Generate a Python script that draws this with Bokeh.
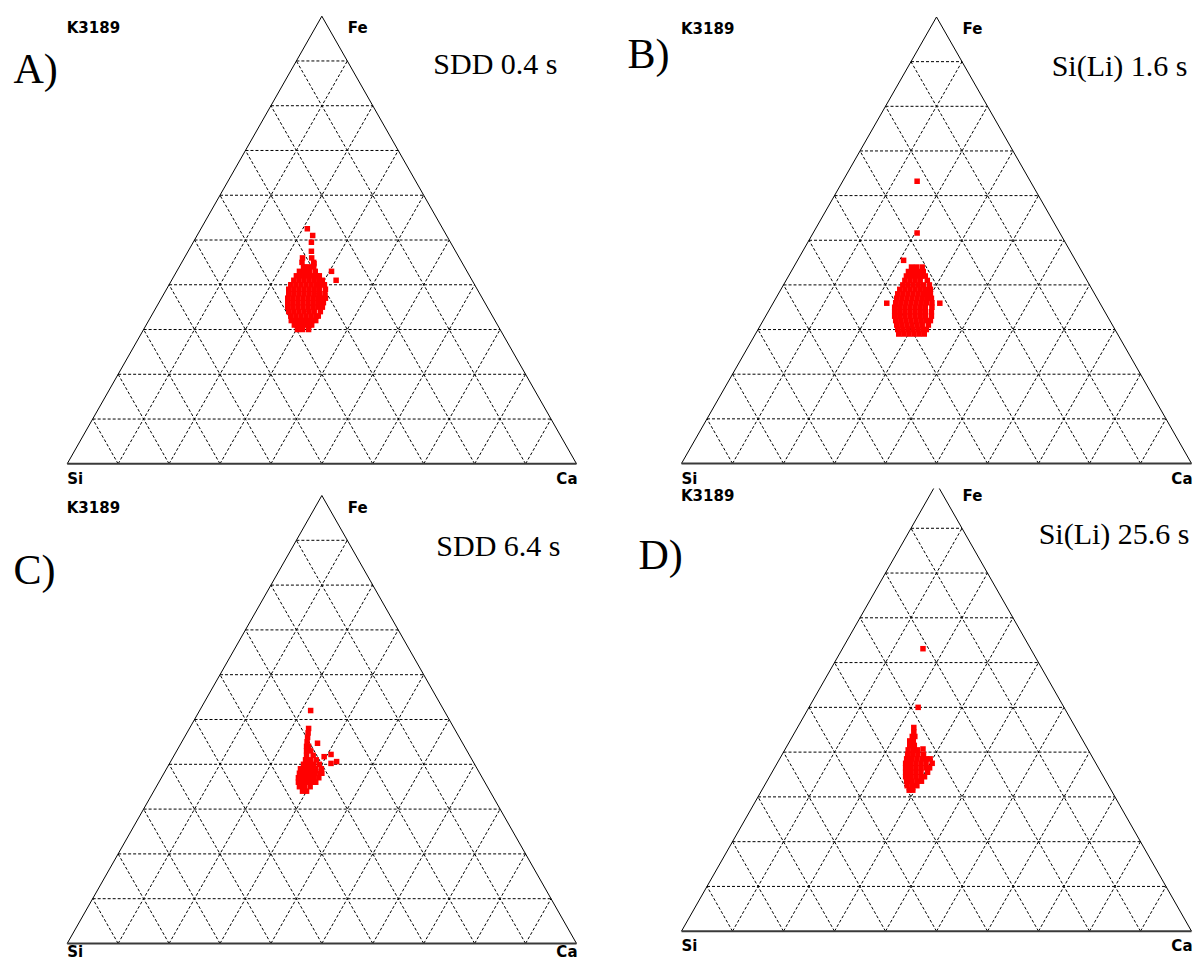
from bokeh.plotting import figure
from bokeh.layouts import row, column
from bokeh.models import Range1d
from bokeh.core.properties import value
from bokeh.embed import file_html
from bokeh.resources import INLINE

# ---------------- data ----------------
SAMPLE = "K3189"
APEX_LABEL, LEFT_LABEL, RIGHT_LABEL = "Fe", "Si", "Ca"
GRID_STEPS = [0.1, 0.2, 0.3, 0.4, 0.5, 0.6, 0.7, 0.8, 0.9]
TAGS = ["A)", "B)", "C)", "D)"]
METHODS = ["SDD 0.4 s", "Si(Li) 1.6 s", "SDD 6.4 s", "Si(Li) 25.6 s"]

# measured compositions, grouped as (Fe %, [Ca % ...]); Si % = 100 - Fe - Ca
rows_A = [
    (30, [30.2, 31.2, 32.4]),
    (31, [29.1, 30.1, 31.1, 32.0, 32.5]),
    (32, [28.0, 29.0, 30.0, 31.0, 32.0, 32.8]),
    (33, [27.4, 28.4, 29.4, 30.4, 31.4, 32.4, 32.8]),
    (34, [26.5, 27.5, 28.5, 29.5, 30.5, 31.5, 32.7]),
    (35, [25.8, 26.8, 27.8, 28.8, 29.8, 30.8, 31.8, 32.6]),
    (36, [25.3, 26.3, 27.3, 28.3, 29.3, 30.3, 31.3, 32.3]),
    (37, [24.8, 25.8, 26.8, 27.8, 28.8, 29.8, 30.8, 31.8, 32.2]),
    (38, [24.5, 25.5, 26.5, 27.5, 28.5, 29.5, 30.5, 31.6]),
    (39, [24.0, 25.0, 26.0, 27.0, 28.0, 29.0, 30.0, 31.2]),
    (40, [23.9, 24.9, 25.9, 26.9, 27.9, 28.9, 29.9, 30.5]),
    (41, [24.0, 25.0, 26.0, 27.0, 28.0, 29.0, 29.6, 32.3]),
    (42, [24.0, 25.0, 26.0, 27.0, 28.0, 28.5]),
    (43, [24.1, 25.1, 26.1, 27.2, 30.4]),
    (44, [24.4, 25.4, 26.4]),
    (44.7, [26.1]),
    (45, [23.6, 25.9]),
    (46, [23.2, 25.0]),
    (47.5, [24.2]),
    (49.5, [23.2]),
    (51, [22.7]),
    (52.5, [20.9]),
]
rows_B = [
    (29, [28.1, 29.1, 30.1, 31.1, 32.1, 33.1]),
    (30, [27.4, 28.4, 29.4, 30.4, 31.4, 32.4, 33.0]),
    (31, [26.7, 27.7, 28.7, 29.7, 30.7, 31.7, 32.9]),
    (32, [26.0, 27.0, 28.0, 29.0, 30.0, 31.0, 32.0, 32.8]),
    (33, [25.3, 26.3, 27.3, 28.3, 29.3, 30.3, 31.3, 32.5]),
    (34, [24.8, 25.8, 26.8, 27.8, 28.8, 29.8, 30.8, 32.0]),
    (35, [24.3, 25.3, 26.3, 27.3, 28.3, 29.3, 30.3, 31.6]),
    (36, [24.0, 25.0, 26.0, 27.0, 28.0, 29.0, 30.0, 31.1]),
    (37, [23.7, 24.7, 25.7, 26.7, 27.7, 28.7, 29.7, 30.5]),
    (38, [23.4, 24.4, 25.4, 26.4, 27.4, 28.4, 29.1, 29.8]),
    (39, [23.3, 24.3, 25.3, 26.3, 27.3, 28.3, 29.3]),
    (40, [23.4, 24.4, 25.4, 26.4, 27.4, 28.6]),
    (41, [23.3, 24.3, 25.3, 26.3, 27.7]),
    (42, [23.1, 24.1, 25.1, 26.1, 26.8]),
    (43, [23.0, 24.0, 25.0, 25.9]),
    (44, [23.1, 24.1, 25.2]),
    (35.9, [22.3, 32.7]),
    (45.5, [20.8]),
    (51.6, [20.4]),
    (63.2, [14.6]),
]
rows_C = [
    (34, [29.2, 30.0]),
    (35, [28.1, 29.1, 30.2]),
    (36, [27.4, 28.4, 29.4, 30.4, 30.8]),
    (37, [26.9, 27.9, 28.9, 29.9, 30.9]),
    (38, [26.6, 27.6, 28.6, 29.6, 30.6, 31.0]),
    (39, [26.3, 27.3, 28.3, 29.3, 30.4]),
    (40, [26.4, 27.4, 28.4, 29.5]),
    (40.2, [31.7]),
    (40.6, [32.6]),
    (41, [26.3, 27.3, 28.4]),
    (41.7, [29.6]),
    (42.2, [30.7]),
    (42, [26.0, 27.3]),
    (43, [25.5, 26.3]),
    (44, [25.0, 25.4]),
    (44.7, [26.8]),
    (45, [24.6]),
    (46, [24.2]),
    (47, [23.8]),
    (48, [23.4]),
    (52, [21.8]),
]
rows_D = [
    (31.5, [28.9, 29.6]),
    (32.5, [28.0, 29.0, 29.9]),
    (33.5, [27.4, 28.4, 29.4, 30.3]),
    (34.5, [26.7, 27.7, 28.7, 29.7, 30.4]),
    (35.5, [26.2, 27.2, 28.2, 29.2, 30.5]),
    (36.5, [25.7, 26.7, 27.7, 28.7, 29.7, 30.4]),
    (37.5, [25.2, 26.2, 27.2, 28.2, 29.2, 30.4]),
    (38.5, [24.9, 25.9, 26.9, 27.9, 28.8, 29.5]),
    (39.5, [24.6, 25.6, 26.6, 27.7]),
    (40.5, [24.2, 25.2, 26.0]),
    (40.7, [27.0]),
    (41.5, [24.0, 24.9]),
    (42.5, [23.5, 24.2]),
    (43.5, [23.5, 24.0]),
    (44.5, [23.3]),
    (45.5, [22.8]),
    (50.0, [21.4]),
    (63.1, [15.8]),
]


def flatten(rows):
    fe = [f for f, cas in rows for _ in cas]
    ca = [c for _, cas in rows for c in cas]
    return fe, ca


fe_A, ca_A = flatten(rows_A)
fe_B, ca_B = flatten(rows_B)
fe_C, ca_C = flatten(rows_C)
fe_D, ca_D = flatten(rows_D)

# ---------------- drawing ----------------
SANS = "DejaVu Sans"
SERIF = "Liberation Serif"
SANS_TOP = 0.2    # em-top to cap-top, fraction of font size
SERIF_TOP = 0.22


def panel(fe, ca, box, tri, tag, tag_cap, method, method_cap, lab_gap):
    ox, oy, W, H = box           # figure box on page (px)
    Lx, Rx, By, Ty = tri         # triangle corners on page (px)
    sx, sy = Rx - Lx, By - Ty

    def d(px, py):
        return (px - Lx) / sx, (By - py) / sy

    x0, y1 = d(ox, oy)
    x1, y0 = d(ox + W, oy + H)
    p = figure(width=W, height=H, x_range=Range1d(x0, x1), y_range=Range1d(y0, y1),
               output_backend="svg", toolbar_location=None, min_border=0,
               x_axis_type=None, y_axis_type=None, outline_line_color=None,
               background_fill_color="white", border_fill_color="white")

    # dashed ternary grid (lines of constant Fe, Ca and Si)
    xs, ys = [], []
    for f in GRID_STEPS:
        xs.append([f / 2, 1 - f / 2]); ys.append([f, f])
        xs.append([f, f + (1 - f) / 2]); ys.append([0, 1 - f])
        xs.append([1 - f, (1 - f) / 2]); ys.append([0, 1 - f])
    p.multi_line(xs, ys, line_color="black", line_width=1, line_dash="3 2")

    # triangle frame
    p.line([0, 0.5, 1], [0, 1, 0], line_color="black", line_width=1)
    p.line([0, 1], [0, 0], line_color="#3a3a3a", line_width=2)

    # measured points
    x = [c / 100 + f / 200 for f, c in zip(fe, ca)]
    y = [f / 100 for f in fe]
    p.scatter(x, y, marker="square", size=5.5, fill_color="#ff0000", line_color=None)

    def txt(s, px, cap_top, font, size, style, align):
        off = (SERIF_TOP if font == SERIF else SANS_TOP) * size
        tx, ty = d(px, cap_top - off)
        p.text(x=[tx], y=[ty], text=[s], text_font=value(font),
               text_font_size=f"{size}px", text_font_style=style,
               text_align=align, text_baseline="top", text_color="black")

    ax = (Lx + Rx) / 2
    txt(SAMPLE, Lx - 0.5, Ty + 6, SANS, 15, "bold", "left")
    txt(APEX_LABEL, ax + 26, Ty + 6, SANS, 15, "bold", "left")
    txt(LEFT_LABEL, Lx, By + lab_gap, SANS, 15, "bold", "left")
    txt(RIGHT_LABEL, Rx + 1, By + lab_gap, SANS, 15, "bold", "right")
    txt(tag, tag_cap[0], tag_cap[1], SERIF, 42, "normal", "left")
    txt(method, method_cap[0], method_cap[1], SERIF, 30, "normal", "right")
    return p


pA = panel(fe_A, ca_A, (0, 0, 600, 492), (66.7, 576, 463.3, 15.7),
           TAGS[0], (13, 55), METHODS[0], (557, 53), 9)
pB = panel(fe_B, ca_B, (600, 0, 593, 488), (681, 1191, 463, 16.5),
           TAGS[1], (627, 40), METHODS[1], (1187, 55), 9)
pC = panel(fe_C, ca_C, (0, 492, 600, 468), (66.7, 576, 943, 495),
           TAGS[2], (13, 556), METHODS[2], (560, 535), 2)
pD = panel(fe_D, ca_D, (600, 488, 593, 472), (681, 1191, 930.7, 483),
           TAGS[3], (638, 541), METHODS[3], (1189, 523), 9)

layout = row(column(pA, pC), column(pB, pD))
open("out.html", "w").write(file_html(layout, INLINE))
